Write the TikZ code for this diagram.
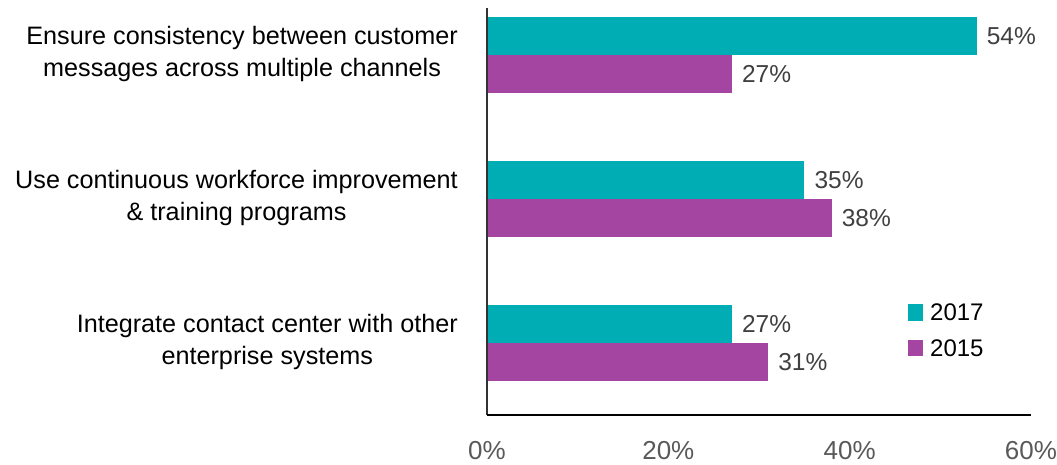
\documentclass[tikz,border=0pt]{standalone}
\usepackage{fontspec}
\setmainfont{Liberation Sans}
\definecolor{teal17}{HTML}{00ADB5}
\definecolor{purple15}{HTML}{A345A1}
\definecolor{valgray}{HTML}{404040}
\definecolor{tickgray}{HTML}{595959}
\tikzset{
  catlabel/.style={anchor=east, align=center, inner sep=0pt, font=\fontsize{25.2}{32}\selectfont},
  vallabel/.style={anchor=west, inner sep=0pt, text=valgray, font=\fontsize{24.5}{28}\selectfont},
  ticklabel/.style={inner sep=0pt, text=tickgray, font=\fontsize{26}{28}\selectfont},
  leglabel/.style={anchor=west, inner sep=0pt, font=\fontsize{24}{28}\selectfont},
}
\begin{document}
\begin{tikzpicture}[x=1pt,y=-1pt]
  \useasboundingbox (0,0) rectangle (1057,465);

  % bars, 2017 on top, 2015 below
  \foreach \i/\a/\b in {0/54/27, 1/35/38, 2/27/31} {
    \fill[teal17] (487,{17+144*\i}) rectangle ({487+9.067*\a},{55+144*\i});
    \fill[purple15] (487,{55+144*\i}) rectangle ({487+9.067*\b},{93+144*\i});
    \node[vallabel] (v17-\i) at ({497+9.067*\a},{36+144*\i}) {\a\%};
    \node[vallabel] (v15-\i) at ({497+9.067*\b},{74+144*\i}) {\b\%};
  }

  % category labels
  \node[catlabel] (cat0) at (458,54) {Ensure consistency between customer\\messages across multiple channels};
  \node[catlabel] (cat1) at (458,198) {Use continuous workforce improvement\\\& training programs};
  \node[catlabel] (cat2) at (458,342) {Integrate contact center with other\\enterprise systems};

  % axes
  \draw[line width=1.5pt, black!80] (487,8) -- (487,415);
  \draw[line width=1.2pt] (487,415) -- (1031,415);
  \foreach \k in {0,1,2,3} {
    \pgfmathtruncatemacro\pct{20*\k}
    \node[ticklabel] (tick\k) at ({487+181.33*\k},451) {\pct\%};
  }

  % legend
  \fill[teal17] (908,304) rectangle (923,321);
  \fill[purple15] (908,340) rectangle (923,356);
  \node[leglabel] (leg17) at (930,312) {2017};
  \node[leglabel] (leg15) at (930,348) {2015};
\end{tikzpicture}
\end{document}
